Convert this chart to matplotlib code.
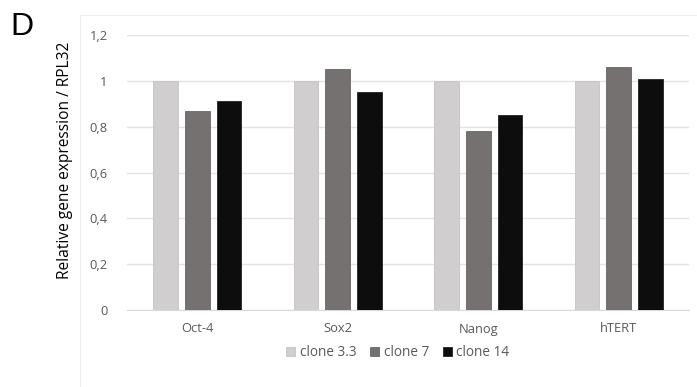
import matplotlib
matplotlib.use("Agg")
import matplotlib.pyplot as plt
import numpy as np
from matplotlib.patches import Rectangle

categories = ["Oct-4", "Sox2", "Nanog", "hTERT"]
series_names = ["clone 3.3", "clone 7", "clone 14"]
clone_3_3 = [1.0, 1.0, 1.0, 1.0]
clone_7 = [0.87, 1.05, 0.78, 1.06]
clone_14 = [0.91, 0.95, 0.85, 1.01]
yticks = [0, 0.2, 0.4, 0.6, 0.8, 1.0, 1.2]
ytick_labels = ["0", "0,2", "0,4", "0,6", "0,8", "1", "1,2"]

colors = ["#D0CECE", "#767171", "#0D0D0D"]
edges = ["#C4C2C2", "#6A6565", "#222222"]
FONT = ["Open Sans", "DejaVu Sans"]

W, H = 697, 387
fig = plt.figure(figsize=(W / 100, H / 100), dpi=100)
ax = fig.add_axes([127 / W, 1 - 310 / H, (689 - 127) / W, (310 - 35) / H])

x = np.arange(len(categories))
width = 0.175
offset = 0.227
for i, (vals, name) in enumerate(zip([clone_3_3, clone_7, clone_14], series_names)):
    ax.bar(x + (i - 1) * offset, vals, width, color=colors[i], edgecolor=edges[i],
           linewidth=0.6, label=name, zorder=3)

ax.set_xlim(-0.5, len(categories) - 0.5)
ax.set_ylim(0, 1.2)
ax.set_yticks(yticks)
ax.set_yticklabels(ytick_labels)
ax.set_xticks(x)
ax.set_xticklabels(categories)
ax.yaxis.grid(True, color="#E3E3E3", linewidth=1.0, zorder=0)
for s in ["top", "right", "left"]:
    ax.spines[s].set_visible(False)
ax.spines["bottom"].set_color("#D9D9D9")
ax.tick_params(axis="both", length=0, colors="#595959", labelsize=9.3)
ax.tick_params(axis="y", pad=14)
ax.tick_params(axis="x", pad=9)
for lab in ax.get_xticklabels() + ax.get_yticklabels():
    lab.set_family(FONT)

fig.text(65 / W, 1 - 160 / H, "Relative gene expression / RPL32", rotation=90,
         ha="center", va="center", fontsize=11.2, family=FONT, color="#000000")
fig.text(10 / W, 1 - 27 / H, "D", ha="left", va="center", fontsize=23,
         family="Liberation Sans", color="#000000")

# chart area border
fig.patches.append(Rectangle((80 / W, -0.01), 1.0, 1 - 15 / H + 0.01,
                             transform=fig.transFigure, fill=False,
                             edgecolor="#EDEDED", linewidth=0.8))

leg = fig.legend(loc="center", bbox_to_anchor=(398 / W, 1 - 353 / H), ncol=3,
                 frameon=False, handlelength=0.65, handleheight=0.65,
                 handletextpad=0.35, columnspacing=1.0,
                 prop={"family": FONT, "size": 9.8})
for t in leg.get_texts():
    t.set_color("#595959")

fig.savefig("out.png", dpi=100)
